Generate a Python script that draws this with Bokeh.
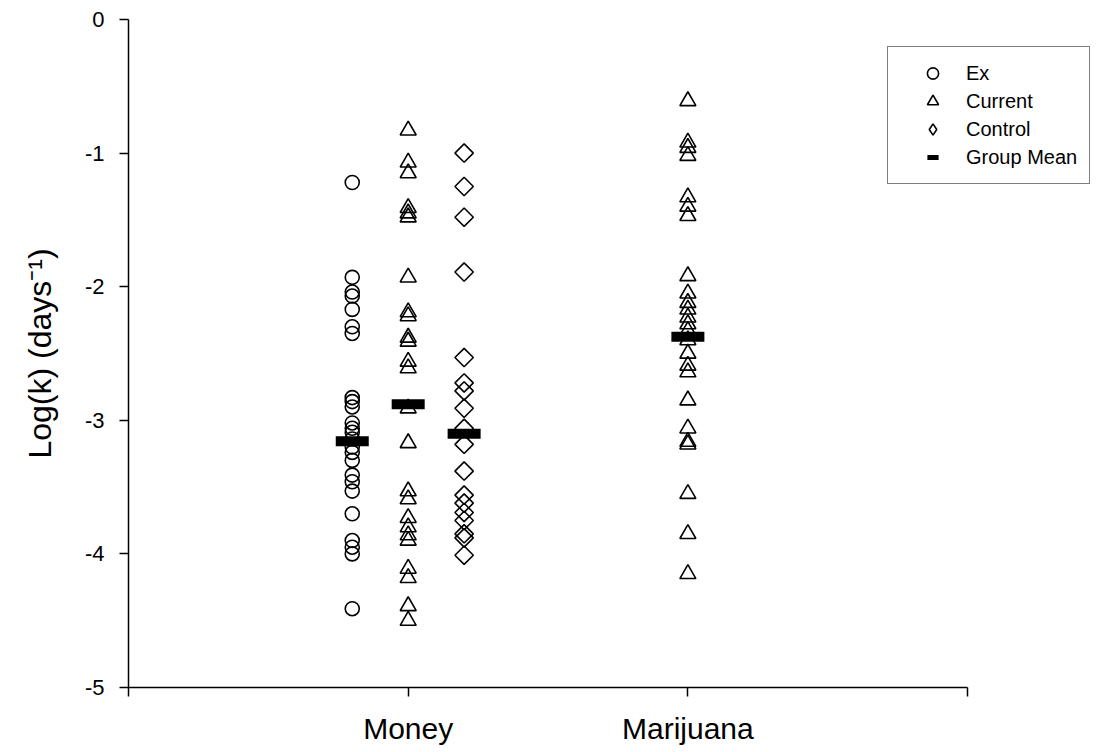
import math
from bokeh.plotting import figure
from bokeh.models import Range1d, FixedTicker, Legend, LegendItem, ColumnDataSource
from bokeh.embed import file_html
from bokeh.resources import INLINE

# ---- data ----
categories = ["Money", "Marijuana"]
category_pos = [1, 2]

ex_money = [-1.22, -1.93, -2.04, -2.07, -2.17, -2.30, -2.35, -2.83, -2.86, -2.90,
            -3.02, -3.06, -3.09, -3.14, -3.20, -3.24, -3.30, -3.41, -3.46, -3.53,
            -3.70, -3.90, -3.95, -4.00, -4.41]
current_money = [-0.83, -1.07, -1.15, -1.41, -1.45, -1.48, -1.93, -2.19, -2.22, -2.38,
                 -2.41, -2.56, -2.61, -2.91, -3.17, -3.53, -3.59, -3.73, -3.80, -3.86,
                 -3.90, -4.11, -4.18, -4.39, -4.50]
control_money = [-1.00, -1.25, -1.48, -1.89, -2.53, -2.72, -2.78, -2.91, -3.06, -3.18,
                 -3.38, -3.56, -3.62, -3.69, -3.75, -3.85, -3.88, -4.01]
current_marijuana = [-0.61, -0.92, -0.96, -1.02, -1.33, -1.40, -1.47, -1.92, -2.05, -2.12,
                     -2.17, -2.23, -2.28, -2.33, -2.40, -2.50, -2.59, -2.64, -2.85, -3.06,
                     -3.16, -3.18, -3.55, -3.85, -4.15]

group_names = ["Ex (Money)", "Current (Money)", "Control (Money)", "Current (Marijuana)"]
group_x = [0.8, 1.0, 1.2, 2.0]
group_means = [-3.157, -2.88, -3.10, -2.375]

y_ticks = [0, -1, -2, -3, -4, -5]
y_tick_labels = ["0", "-1", "-2", "-3", "-4", "-5"]

FONT = "Liberation Sans"
NAN = float("nan")

p = figure(width=1096, height=752, output_backend="svg", toolbar_location=None,
           x_range=Range1d(0, 3.461), y_range=Range1d(-5, 0),
           min_border_left=128, min_border_right=0, min_border_top=19,
           min_border_bottom=65)
p.outline_line_color = None
p.xgrid.visible = False
p.ygrid.visible = False
p.background_fill_color = "white"
p.border_fill_color = "white"

ex_src = ColumnDataSource(dict(x=[group_x[0]] * len(ex_money), y=ex_money))
cur_src = ColumnDataSource(dict(
    x=[group_x[1]] * len(current_money) + [group_x[3]] * len(current_marijuana),
    y=current_money + current_marijuana))
con_src = ColumnDataSource(dict(x=[group_x[2]] * len(control_money), y=control_money))
mean_src = ColumnDataSource(dict(x=group_x, y=group_means))

r_ex = p.scatter("x", "y", source=ex_src, marker="circle", size=14,
                 fill_color=None, line_color="black", line_width=1.6)
r_cur = p.scatter("x", "y", source=cur_src, marker="triangle", size=16,
                  fill_color=None, line_color="black", line_width=1.6)
r_con = p.scatter("x", "y", source=con_src, marker="square", size=13, angle=math.pi / 4,
                  fill_color=None, line_color="black", line_width=1.6)
p.rect("x", "y", source=mean_src, width=33, height=10, width_units="screen",
       height_units="screen", fill_color="black", line_color=None)

# legend-only symbols (not drawn in the plot area: NaN positions)
r_con_leg = p.scatter(x=[NAN], y=[NAN], marker="diamond", size=13, fill_color=None,
                      line_color="black", line_width=1.6)
r_mean_leg = p.scatter(x=[NAN], y=[NAN], marker="dash", size=16, line_color="black",
                       line_width=5)

# axes
xa = p.xaxis[0]
xa.ticker = FixedTicker(ticks=[0, 1, 2, 3])
xa.major_label_overrides = {0: "", 1: categories[0], 2: categories[1], 3: ""}
xa.bounds = (0, 3)
xa.minor_tick_line_color = None
xa.major_tick_in = 0
xa.major_tick_out = 9
xa.axis_line_width = 1.5
xa.major_tick_line_width = 1.5
xa.axis_line_color = "black"
xa.major_tick_line_color = "black"
xa.major_label_text_font = FONT
xa.major_label_text_font_size = "30px"
xa.major_label_text_color = "black"
xa.major_label_standoff = 15

ya = p.yaxis[0]
ya.ticker = FixedTicker(ticks=y_ticks)
ya.major_label_overrides = {t: s for t, s in zip(y_ticks, y_tick_labels)}
ya.minor_tick_line_color = None
ya.major_tick_in = 0
ya.major_tick_out = 9
ya.axis_line_width = 1.5
ya.major_tick_line_width = 1.5
ya.axis_line_color = "black"
ya.major_tick_line_color = "black"
ya.major_label_text_font = FONT
ya.major_label_text_font_size = "22px"
ya.major_label_text_color = "black"
ya.major_label_standoff = 15
ya.axis_label = "Log(k) (days\u207b\u00b9)"
ya.axis_label_text_font = FONT
ya.axis_label_text_font_style = "normal"
ya.axis_label_text_font_size = "32px"
ya.axis_label_text_color = "black"
ya.axis_label_standoff = 24

legend = Legend(items=[
    LegendItem(label="Ex", renderers=[r_ex]),
    LegendItem(label="Current", renderers=[r_cur]),
    LegendItem(label="Control", renderers=[r_con_leg]),
    LegendItem(label="Group Mean", renderers=[r_mean_leg]),
], location=(759, 503))
legend.glyph_width = 65
legend.glyph_height = 28
legend.spacing = 0
legend.padding = 12
legend.label_standoff = 1
legend.label_text_font = FONT
legend.label_text_font_size = "20px"
legend.label_text_color = "black"
legend.border_line_color = "black"
legend.border_line_width = 1.5
legend.background_fill_color = "white"
legend.background_fill_alpha = 1.0
p.add_layout(legend, "center")

open("out.html", "w").write(file_html(p, INLINE))
